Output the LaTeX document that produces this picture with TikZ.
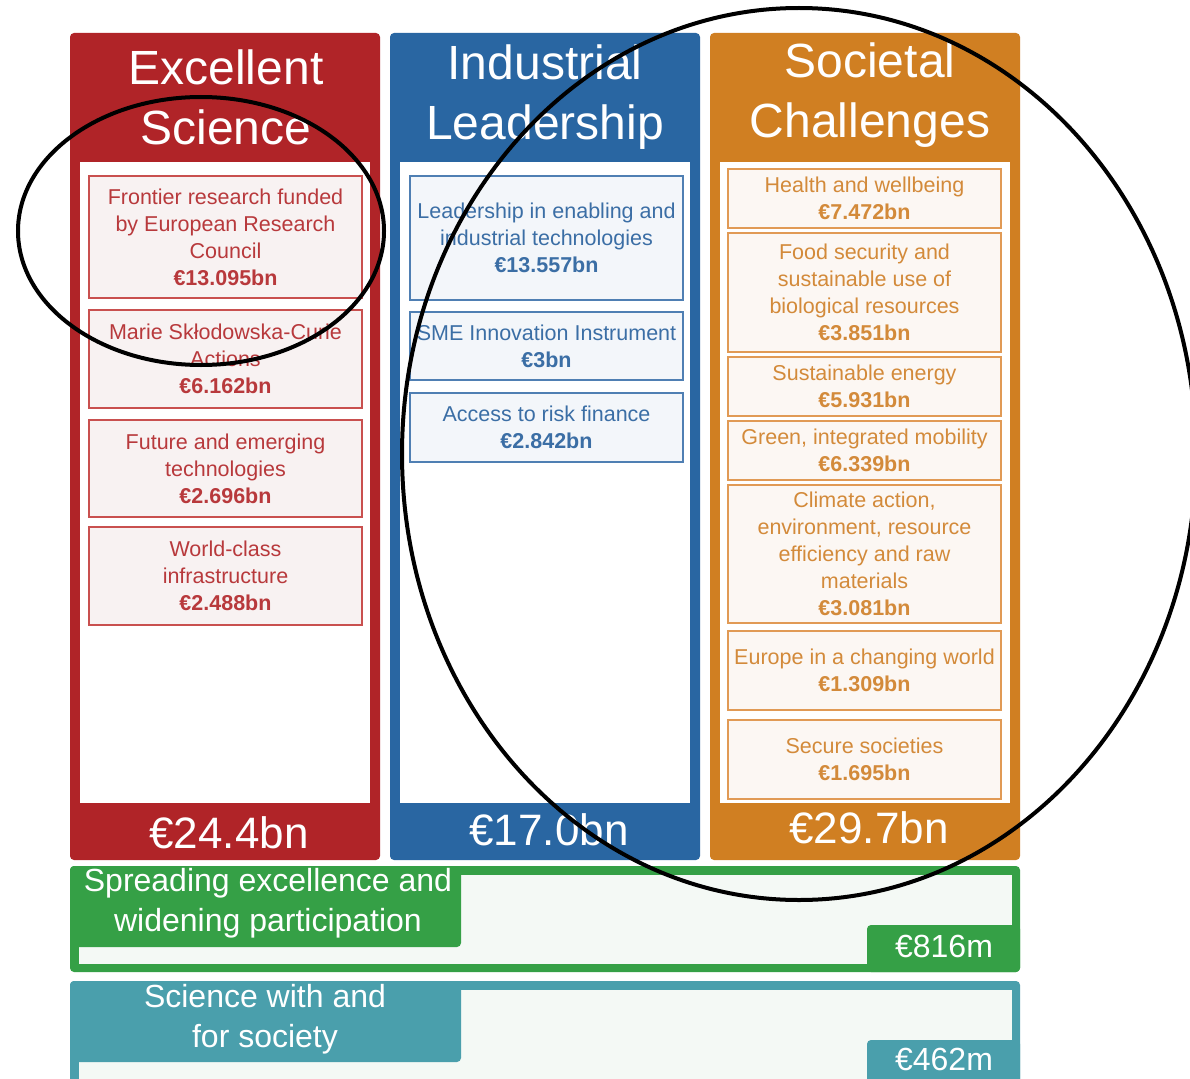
\documentclass[tikz,border=0pt]{standalone}
\usepackage{fontspec}
\setmainfont{Liberation Sans}
\definecolor{esred}{HTML}{B02428}
\definecolor{ilblue}{HTML}{2966A2}
\definecolor{scorange}{HTML}{D07F22}
\definecolor{swgreen}{HTML}{35A046}
\definecolor{swlight}{HTML}{F4F9F5}
\definecolor{sfteal}{HTML}{4A9FAC}
\definecolor{rdtext}{HTML}{B8393C}
\definecolor{rdline}{HTML}{C9504F}
\definecolor{rdfill}{HTML}{F8F2F2}
\definecolor{bltext}{HTML}{3B6EA5}
\definecolor{blline}{HTML}{4F7FB3}
\definecolor{blfill}{HTML}{F3F6FA}
\definecolor{ortext}{HTML}{D38A3A}
\definecolor{orline}{HTML}{E19A55}
\definecolor{orfill}{HTML}{FCF7F3}
\tikzset{
  colbox/.style={rounded corners=4pt},
  subbox/.style={draw, line width=1.6pt, minimum width=273pt, inner sep=0pt, align=center,
    font=\fontsize{21.5}{27}\selectfont},
  redbox/.style={subbox, draw=rdline, fill=rdfill, text=rdtext},
  bluebox/.style={subbox, draw=blline, fill=blfill, text=bltext},
  orangebox/.style={subbox, draw=orline, fill=orfill, text=ortext},
  heading/.style={text=white, align=center, inner sep=0pt, font=\fontsize{48}{60}\selectfont},
  total/.style={text=white, inner sep=0pt, font=\fontsize{44}{50}\selectfont},
  bartitle/.style={text=white, align=center, inner sep=0pt, font=\fontsize{32}{40}\selectfont},
  oval/.style={draw=black, line width=4pt},
}
\begin{document}
\begin{tikzpicture}[x=1pt,y=-1pt]
\useasboundingbox (0,0) rectangle (1190,1078);
\clip (0,0) rectangle (1190,1078);
\fill[white] (0,0) rectangle (1190,1078);
% columns
\fill[esred, colbox] (70,33) rectangle (380,860);
\fill[white] (80,162) rectangle (370,803);
\fill[ilblue, colbox] (390,33) rectangle (700,860);
\fill[white] (400,162) rectangle (690,803);
\fill[scorange, colbox] (710,33) rectangle (1020,860);
\fill[white] (720,162) rectangle (1010,803);
% headings
\node[heading] (hes) at (226,97) {Excellent\\Science};
\node[heading] (hil) at (545,97) {Industrial\\Leadership};
\node[heading] (hsc) at (870,95) {Societal\\Challenges};
% totals
\node[total] (tes) at (229,833) {€24.4bn};
\node[total] (til) at (549,830) {€17.0bn};
\node[total] (tsc) at (869,828) {€29.7bn};
% red boxes
\node[redbox, minimum height=122pt] (r1) at (225.5,237) {Frontier research funded\\by European Research\\Council\\\textbf{€13.095bn}};
\node[redbox, minimum height=98pt] (r2) at (225.5,359) {Marie Skłodowska-Curie\\Actions\\\textbf{€6.162bn}};
\node[redbox, minimum height=97pt] (r3) at (225.5,468.5) {Future and emerging\\technologies\\\textbf{€2.696bn}};
\node[redbox, minimum height=98pt] (r4) at (225.5,576) {World-class\\infrastructure\\\textbf{€2.488bn}};
% blue boxes
\node[bluebox, minimum height=124pt] (b1) at (546.5,238) {Leadership in enabling and\\industrial technologies\\\textbf{€13.557bn}};
\node[bluebox, minimum height=68pt] (b2) at (546.5,346) {SME Innovation Instrument\\\textbf{€3bn}};
\node[bluebox, minimum height=69pt] (b3) at (546.5,427.5) {Access to risk finance\\\textbf{€2.842bn}};
% orange boxes
\node[orangebox, minimum height=59pt] (o1) at (864.5,198.5) {Health and wellbeing\\\textbf{€7.472bn}};
\node[orangebox, minimum height=119pt] (o2) at (864.5,292.5) {Food security and\\sustainable use of\\biological resources\\\textbf{€3.851bn}};
\node[orangebox, minimum height=59pt] (o3) at (864.5,386.5) {Sustainable energy\\\textbf{€5.931bn}};
\node[orangebox, minimum height=59pt] (o4) at (864.5,450.5) {Green, integrated mobility\\\textbf{€6.339bn}};
\node[orangebox, minimum height=138pt] (o5) at (864.5,554) {Climate action,\\environment, resource\\efficiency and raw\\materials\\\textbf{€3.081bn}};
\node[orangebox, minimum height=79pt] (o6) at (864.5,670.5) {Europe in a changing world\\\textbf{€1.309bn}};
\node[orangebox, minimum height=79pt] (o7) at (864.5,759.5) {Secure societies\\\textbf{€1.695bn}};
% green bar
\fill[swgreen, colbox] (70,866) rectangle (1020,972);
\fill[swlight] (79,875) rectangle (1012,964);
\fill[swgreen, colbox] (70,866) rectangle (461,947);
\fill[swgreen, colbox] (867,925) rectangle (1020,972);
\node[bartitle] (spt) at (268,903) {Spreading excellence and\\widening participation};
\node[bartitle] (spv) at (944,946) {€816m};
% teal bar
\fill[sfteal, colbox] (70,981) rectangle (1020,1100);
\fill[swlight] (79,990) rectangle (1012,1100);
\fill[sfteal, colbox] (70,981) rectangle (461,1062);
\fill[sfteal, colbox] (867,1040) rectangle (1020,1100);
\node[bartitle] (sft) at (265,1019) {Science with and\\for society};
\node[bartitle] (sfv) at (944,1059) {€462m};
% ellipses
\draw[oval] (201,231) ellipse [x radius=183pt, y radius=134pt];
\draw[oval] (799,454) ellipse [x radius=397pt, y radius=446pt];
\end{tikzpicture}
\end{document}
